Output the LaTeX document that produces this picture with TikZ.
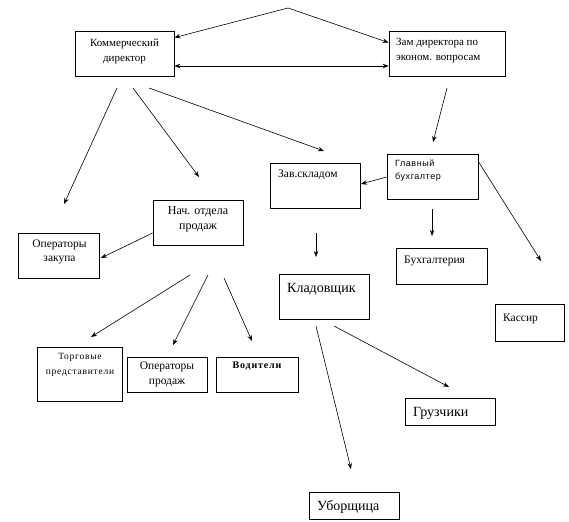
\documentclass[tikz,border=0pt]{standalone}
\usepackage{fontspec}
\setmainfont{Liberation Serif}
\newfontfamily\gbsans[LetterSpace=6]{Liberation Sans}
\newfontfamily\spacedserif[LetterSpace=8]{Liberation Serif}
\usetikzlibrary{arrows.meta,calc}
\begin{document}
\begin{tikzpicture}[x=1pt,y=-1pt,
  box/.style={draw,line width=0.8pt,inner sep=0,rectangle},
  lb/.style={inner sep=0,anchor=base west,font=\fontsize{11.5}{13}\selectfont},
  cb/.style={inner sep=0,anchor=base,font=\fontsize{11.5}{13}\selectfont},
  big/.style={font=\fontsize{14}{16}\selectfont},
  arr/.style={line width=0.6pt,-{Stealth[length=6pt,width=4.5pt]}},
  dbl/.style={line width=0.6pt,{Stealth[length=6pt,width=4.5pt]}-{Stealth[length=6pt,width=4.5pt]}}]
\useasboundingbox (0,0) rectangle (569,521);
% boxes
\node[box,minimum width=99,minimum height=45] (kd) at (124.5,53.5) {};
\node[box,minimum width=116,minimum height=45] (zam) at (447,53.5) {};
\node[box,minimum width=90,minimum height=45] (nach) at (198,222.5) {};
\node[box,minimum width=81,minimum height=45] (oz) at (58.5,255.5) {};
\node[box,minimum width=90,minimum height=45] (zav) at (315,185.5) {};
\node[box,minimum width=91,minimum height=45] (gb) at (432.5,176.5) {};
\node[box,minimum width=91,minimum height=36] (buh) at (441.5,266) {};
\node[box,minimum width=69,minimum height=37] (kas) at (529.5,322.5) {};
\node[box,minimum width=90,minimum height=45] (klad) at (324,296.5) {};
\node[box,minimum width=85,minimum height=54] (tp) at (79.5,374) {};
\node[box,minimum width=80,minimum height=35] (op) at (167,374.5) {};
\node[box,minimum width=82,minimum height=35] (vod) at (257,374.5) {};
\node[box,minimum width=90,minimum height=27] (gruz) at (450,411.5) {};
\node[box,minimum width=90,minimum height=27] (ub) at (354,505.5) {};
% texts
\node[cb,font=\fontsize{11}{13}\selectfont] (kd1) at (124.5,47) {Коммерческий};
\node[cb,font=\fontsize{11}{13}\selectfont] (kd2) at (124.5,62) {директор};
\node[lb,font=\fontsize{11}{13}\selectfont] (zam1) at (396,46) {Зам директора по};
\node[lb,font=\fontsize{11}{13}\selectfont] (zam2) at (396,61) {эконом. вопросам};
\node[cb,font=\fontsize{12}{14}\selectfont] (nach1) at (198,214) {Нач. отдела};
\node[cb,font=\fontsize{12}{14}\selectfont] (nach2) at (198,229) {продаж};
\node[cb] (oz1) at (59.5,247) {Операторы};
\node[cb] (oz2) at (59.5,261) {закупа};
\node[lb] (zav1) at (278,178) {Зав.складом};
\node[lb,font=\fontsize{9}{11}\gbsans] (gb1) at (395,167) {Главный};
\node[lb,font=\fontsize{9}{11}\gbsans] (gb2) at (395,180) {бухгалтер};
\node[lb] (buh1) at (404,263) {Бухгалтерия};
\node[lb,big] (klad1) at (287,292) {Кладовщик};
\node[lb] (kas1) at (503,321) {Кассир};
\node[cb,font=\fontsize{9.5}{11}\spacedserif] (tp1) at (80,359) {Торговые};
\node[cb,font=\fontsize{9.5}{11}\spacedserif] (tp2) at (80,374) {представители};
\node[cb] (op1) at (167,369) {Операторы};
\node[cb] (op2) at (167,384) {продаж};
\node[cb,font=\fontsize{10}{12}\spacedserif\bfseries] (vod1) at (257,368) {Водители};
\node[lb,big] (gruz1) at (413,416) {Грузчики};
\node[lb,big] (ub1) at (317,510) {Уборщица};
% connector end points
\coordinate (apex) at (288,8);
\coordinate (s1) at (117,88);  \coordinate (e1) at (64,204);
\coordinate (s2) at (133,88);  \coordinate (e2) at (199,177);
\coordinate (s3) at (149,88);  \coordinate (e3) at (324,151);
\coordinate (s4) at (447,88);  \coordinate (e4) at (433,142);
\coordinate (e5) at (101,258);
\coordinate (e6) at (361,184);
\coordinate (s7) at (432,209); \coordinate (e7) at (432,236);
\coordinate (e8) at (541,261);
\coordinate (s9) at (316,233); \coordinate (e9) at (316,257);
\coordinate (s10) at (316,326); \coordinate (e10) at (351,469);
\coordinate (s11) at (334,326); \coordinate (e11) at (449,387);
\coordinate (s12) at (190,275); \coordinate (e12) at (91,337);
\coordinate (s13) at (208,275); \coordinate (e13) at (173,345);
\coordinate (s14) at (224,278); \coordinate (e14) at (252,341);
% connectors
\draw[dbl] ($(kd.north east)+(0,7)$) -- (apex) -- ($(zam.north west)+(0,12)$);
\draw[dbl] ($(kd.east)+(0,12.5)$) -- ($(zam.west)+(0,12.5)$);
\draw[arr] (s1) -- (e1);
\draw[arr] (s2) -- (e2);
\draw[arr] (s3) -- (e3);
\draw[arr] (s4) -- (e4);
\draw[arr] ($(nach.west)+(0,10.5)$) -- (e5);
\draw[arr] ($(gb.west)+(0,0.5)$) -- (e6);
\draw[arr] (s7) -- (e7);
\draw[arr] ($(gb.north east)+(0,8)$) -- (e8);
\draw[arr] (s9) -- (e9);
\draw[arr] (s10) -- (e10);
\draw[arr] (s11) -- (e11);
\draw[arr] (s12) -- (e12);
\draw[arr] (s13) -- (e13);
\draw[arr] (s14) -- (e14);
\end{tikzpicture}
\end{document}
